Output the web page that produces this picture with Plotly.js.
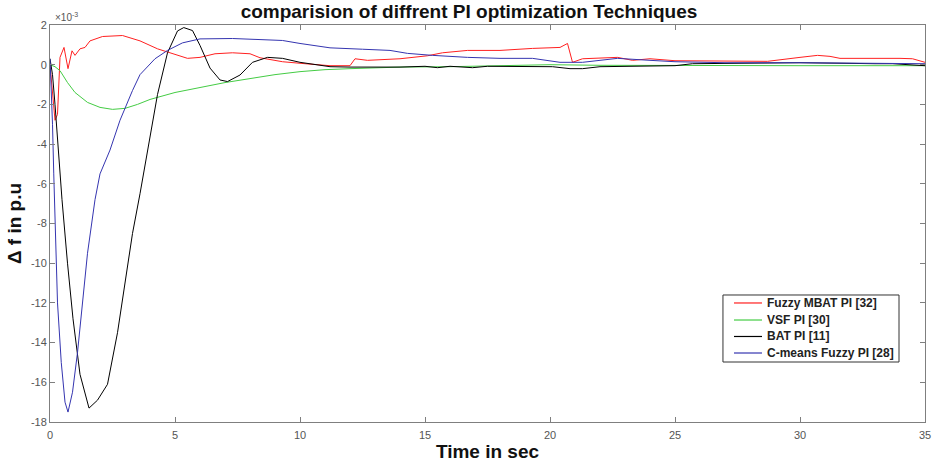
<!DOCTYPE html>
<html>
<head>
<meta charset="utf-8">
<script src="https://cdn.plot.ly/plotly-3.0.1.min.js"></script>
<style>html,body{margin:0;padding:0;background:#fff;}#chart{width:938px;height:466px;}</style>
</head>
<body>
<div id="chart"></div>
<script>
// values are Δf in units of 1e-3 p.u.
const redT = [0,0.1,0.2,0.3,0.4,0.56,0.72,0.88,1.0,1.2,1.4,1.6,2.1,2.9,3.6,4.3,4.8,5.3,5.5,6.0,6.6,7.3,8.0,8.4,9.3,10.2,11.2,12.0,12.2,12.7,14,15.1,15.7,16.7,18,19.3,20.4,20.7,20.9,21.3,22.7,23.3,24,25,26.7,28.7,30,30.7,31.2,31.6,34,34.5,35];
const redV = [0,-1.5,-2.8,-2.5,0.37,0.87,-0.2,0.7,0.47,0.8,0.87,1.2,1.42,1.47,1.2,0.8,0.6,0.4,0.32,0.37,0.55,0.6,0.55,0.35,0.15,0.05,-0.05,-0.05,0.3,0.22,0.3,0.45,0.6,0.72,0.72,0.82,0.87,1.07,0.12,0.3,0.37,0.22,0.3,0.2,0.17,0.17,0.37,0.47,0.42,0.32,0.32,0.3,0.12];

const greenT = [0,0.2,0.4,0.7,1.0,1.5,2.0,2.5,3.0,3.5,4.0,5,6,7,8,9,10,11,12,14,16,18,20,22,25,30,35];
const greenV = [0,-0.1,-0.3,-0.9,-1.4,-1.9,-2.15,-2.25,-2.2,-2.0,-1.75,-1.4,-1.15,-0.9,-0.7,-0.5,-0.35,-0.25,-0.2,-0.12,-0.1,-0.05,0,-0.03,-0.05,-0.05,-0.05];

const blackT = [0,0.1,0.2,0.3,0.48,0.7,0.92,1.2,1.56,1.9,2.3,2.7,3.0,3.3,3.6,3.9,4.3,4.7,5.1,5.35,5.7,6.0,6.4,6.8,7.1,7.6,8.1,8.7,9.3,10,11.2,12,12.7,14,15,15.5,16,16.9,17.5,19,20.1,20.8,21.3,22,25,25.7,30,33,33.7,35];
const blackV = [0.3,-0.5,-2,-3.8,-6.8,-10,-12.8,-15.6,-17.3,-16.9,-16.1,-13.5,-11,-8.5,-6.5,-4.3,-1.5,0.6,1.7,1.87,1.72,0.97,-0.17,-0.77,-0.85,-0.52,0.12,0.37,0.32,0.12,-0.1,-0.12,-0.12,-0.12,-0.08,-0.15,-0.08,-0.15,-0.08,-0.1,-0.1,-0.2,-0.2,-0.1,-0.05,0.05,0.1,0.05,0.05,-0.05];

const blueT = [0,0.05,0.1,0.15,0.2,0.3,0.45,0.6,0.72,0.9,1.1,1.28,1.5,1.8,2.0,2.4,2.8,3.3,3.6,4.2,4.7,5.3,6,7.3,8.5,9.3,10,11.2,12.5,13.6,14.3,15.3,16.7,18,19.3,20.4,21.3,22.7,24,25,27,30,35];
const blueV = [0.3,-1,-3,-5.5,-8,-12,-15,-17,-17.5,-16.5,-14.5,-12.3,-9.5,-6.8,-5.5,-4.3,-2.8,-1.3,-0.5,0.3,0.72,1.1,1.3,1.32,1.28,1.22,1.07,0.85,0.78,0.72,0.57,0.47,0.37,0.32,0.32,0.12,0.12,0.32,0.22,0.15,0.1,0.1,0.05];

const seriesNames = ['Fuzzy MBAT PI [32]','VSF PI [30]','BAT PI [11]','C-means Fuzzy PI [28]'];
const xTicks = [0,5,10,15,20,25,30,35];
const yTicks = [-18,-16,-14,-12,-10,-8,-6,-4,-2,0,2];

const FONT = 'Liberation Sans, Arial, sans-serif';
const colors = ['#ff2020','#44cc44','#000000','#3535b0'];
const xs = [redT, greenT, blackT, blueT];
const ys = [redV, greenV, blackV, blueV];
const traces = seriesNames.map((n,i)=>({
  x: xs[i], y: ys[i], name: n, type:'scatter', mode:'lines',
  line:{color:colors[i], width:1}, showlegend:false
}));

// custom legend (MATLAB-style compact box)
const legX0 = 0.7691, legX1 = 0.9703, legY0 = 0.1511, legY1 = 0.3199;
const rowY = [0.2998, 0.2569, 0.2154, 0.1738];
const shapes = [{type:'rect', xref:'paper', yref:'paper', x0:legX0, x1:legX1, y0:legY0, y1:legY1,
  line:{color:'#333', width:1}, fillcolor:'#fff', layer:'above'}];
const annotations = [{text:'×10<sup>-3</sup>', xref:'paper', yref:'paper', x:0.003, y:1.0, xanchor:'left', yanchor:'bottom',
    showarrow:false, font:{family:FONT, size:10, color:'#555'}}];
seriesNames.forEach((n,i)=>{
  shapes.push({type:'line', xref:'paper', yref:'paper', x0:0.7817, x1:0.8137, y0:rowY[i], y1:rowY[i],
    line:{color:colors[i], width:1.2}, layer:'above'});
  annotations.push({text:'<b>'+n+'</b>', xref:'paper', yref:'paper', x:0.8171, y:rowY[i], xanchor:'left', yanchor:'middle',
    showarrow:false, font:{family:FONT, size:12, color:'#222'}});
});

const axisCommon = {
  showgrid:false, zeroline:false, showline:true, linecolor:'#7f7f7f', linewidth:1,
  mirror:'ticks', ticks:'inside', ticklen:5, tickcolor:'#7f7f7f',
  tickfont:{family:FONT, size:11, color:'#555'}
};

const layout = {
  width:938, height:466,
  margin:{l:50, r:13, t:25, b:44},
  paper_bgcolor:'#fff', plot_bgcolor:'#fff',
  title:{text:'<b>comparision of diffrent PI optimization Techniques</b>', x:0.5, xanchor:'center', y:0.975, yanchor:'middle',
    font:{family:FONT, size:19, color:'#111'}},
  xaxis: Object.assign({}, axisCommon, {range:[0,35], tickvals:xTicks, ticktext:xTicks.map(String), ticklabelstandoff:3,
    title:{text:'<b>Time in sec</b>', standoff:4, font:{family:FONT, size:19, color:'#111'}}}),
  yaxis: Object.assign({}, axisCommon, {range:[-18,2], tickvals:yTicks, ticktext:yTicks.map(String),
    title:{text:'<b>Δ f in p.u</b>', standoff:4, font:{family:FONT, size:19, color:'#111'}}}),
  showlegend:false,
  shapes: shapes,
  annotations: annotations
};

Plotly.newPlot('chart', traces, layout, {staticPlot:true, displayModeBar:false});
</script>
</body>
</html>
